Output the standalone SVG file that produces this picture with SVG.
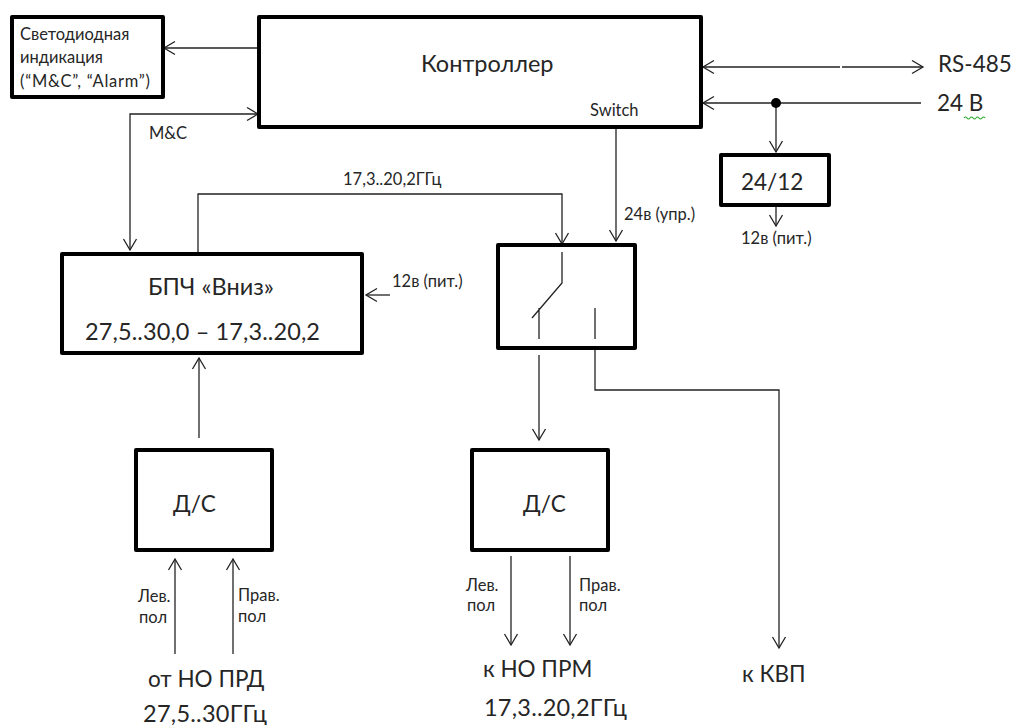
<svg xmlns="http://www.w3.org/2000/svg" width="1016" height="725" viewBox="0 0 1016 725">
<style>
text{font-family:"Lato","Noto Sans","Liberation Sans",sans-serif;fill:#262626}
.s{font-size:16.500px}.l{font-size:23.500px}.k{font-size:22.500px}
.b{fill:#fff;stroke:#000;stroke-width:4;stroke-linejoin:round}
.c{fill:none;stroke:#222;stroke-width:1.3}
</style>
<defs>
<marker id="a" markerUnits="userSpaceOnUse" markerWidth="16" markerHeight="18" refX="14" refY="8" orient="auto-start-reverse" viewBox="0 0 16 16"><path d="M3 1.500L14 8L3 14.500" fill="none" stroke="#222" stroke-width="1.3"/></marker>
</defs>
<rect width="1016" height="725" fill="#fff"/>
<g id="connectors" class="conn">
<path class="c" d="M258 48H164" marker-end="url(#a)"/>
<path class="c" d="M130 250V114H258" marker-start="url(#a)" marker-end="url(#a)"/>
<path class="c" d="M198 252V194H562V244" marker-end="url(#a)"/>
<path class="c" d="M616 128V241" marker-end="url(#a)"/>
<path class="c" d="M840 67H703" marker-end="url(#a)"/>
<path class="c" d="M842 67H923" marker-end="url(#a)"/>
<path class="c" d="M921 103H703" marker-end="url(#a)"/>
<path class="c" d="M776 103V152" marker-end="url(#a)"/>
<circle cx="776" cy="103" r="5" fill="#000"/>
<path class="c" d="M776 207V226" marker-end="url(#a)"/>
<path class="c" d="M390 295H366" marker-end="url(#a)"/>
<path class="c" d="M199 438V358" marker-end="url(#a)"/>
<path class="c" d="M539 355V440" marker-end="url(#a)"/>
<path class="c" d="M595 350V390H779V648" marker-end="url(#a)"/>
<path class="c" d="M175 654V559" marker-end="url(#a)"/>
<path class="c" d="M233 654V559" marker-end="url(#a)"/>
<path class="c" d="M511 556V645" marker-end="url(#a)"/>
<path class="c" d="M570 556V645" marker-end="url(#a)"/>
</g>
<g id="led"><rect class="b" x="12" y="17" width="151" height="80"/>
<text class="s" x="20" y="40">Светодиодная</text><text class="s" x="20" y="63">индикация</text><text class="s" x="20" y="87" textLength="130">(“M&amp;C”, “Alarm”)</text></g>
<g id="controller"><rect class="b" x="259" y="17" width="442" height="110"/>
<text class="l" x="421" y="72">Контроллер</text><text class="s" x="590" y="116">Switch</text></g>
<g id="conv2412"><rect class="b" x="721" y="155" width="108" height="50"/><text class="k" x="741" y="190">24/12</text></g>
<g id="bpch"><rect class="b" x="62" y="254" width="300" height="99"/>
<text class="l" x="148" y="295">БПЧ «Вниз»</text><text class="l" x="85" y="340" textLength="235">27,5..30,0 – 17,3..20,2</text></g>
<g id="switch"><rect class="b" x="498" y="245" width="137" height="103"/>
<path class="c" d="M562 252V283L532 318M539 308V339M595 308V339"/></g>
<g id="ds1"><rect class="b" x="136" y="450" width="136" height="100"/><text class="k" x="173" y="512">Д/С</text></g>
<g id="ds2"><rect class="b" x="472" y="450" width="136" height="100"/><text class="k" x="523" y="512">Д/С</text></g>
<g id="labels">
<text class="s" x="149" y="139">M&amp;C</text>
<text class="s" x="343" y="185">17,3..20,2ГГц</text>
<text class="s" x="624" y="220">24в (упр.)</text>
<text class="s" x="741" y="244">12в (пит.)</text>
<text class="s" x="392" y="287">12в (пит.)</text>
<text class="k" x="938" y="72">RS-485</text>
<text class="k" x="937" y="111">24 В</text>
<path d="M964 118q1.500 -2 3 0t3 0t3 0t3 0t3 0t3 0t3 0" fill="none" stroke="#3a3" stroke-width="1.200"/>
<text class="s" x="138" y="602">Лев.</text><text class="s" x="139" y="623">пол</text>
<text class="s" x="238" y="601">Прав.</text><text class="s" x="238" y="622">пол</text>
<text class="s" x="466" y="591">Лев.</text><text class="s" x="467" y="611">пол</text>
<text class="s" x="579" y="591">Прав.</text><text class="s" x="579" y="611">пол</text>
<text class="k" x="148" y="687">от НО ПРД</text>
<text class="l" x="143" y="722" textLength="124">27,5..30ГГц</text>
<text class="k" x="483" y="677">к НО ПРМ</text>
<text class="l" x="484" y="716" textLength="143">17,3..20,2ГГц</text>
<text class="k" x="742" y="682">к КВП</text>
</g>
</svg>
